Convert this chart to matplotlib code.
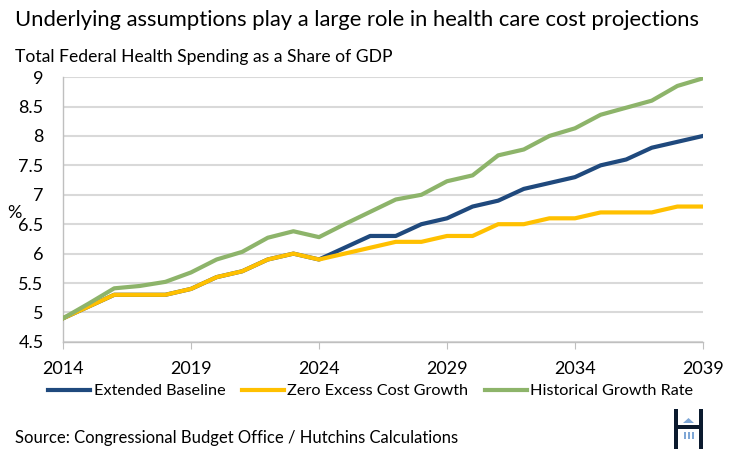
import numpy as np
import matplotlib
matplotlib.use("Agg")
import matplotlib.pyplot as plt
from matplotlib.patches import Rectangle, Polygon

plt.rcParams['font.family'] = ['Lato', 'DejaVu Sans']

# years and series (share of GDP, %)
years = list(range(2014, 2040))
extended_baseline = [4.9, 5.1, 5.3, 5.3, 5.3, 5.4, 5.6, 5.7, 5.9, 6.0, 5.9, 6.1, 6.3,
                     6.3, 6.5, 6.6, 6.8, 6.9, 7.1, 7.2, 7.3, 7.5, 7.6, 7.8, 7.9, 8.0]
zero_excess = [4.9, 5.1, 5.3, 5.3, 5.3, 5.4, 5.6, 5.7, 5.9, 6.0, 5.9, 6.0, 6.1,
               6.2, 6.2, 6.3, 6.3, 6.5, 6.5, 6.6, 6.6, 6.7, 6.7, 6.7, 6.8, 6.8]
historical = [4.9, 5.15, 5.41, 5.45, 5.52, 5.68, 5.9, 6.03, 6.27, 6.38, 6.28, 6.5, 6.71,
              6.92, 7.0, 7.23, 7.33, 7.67, 7.77, 8.0, 8.13, 8.36, 8.48, 8.6, 8.85, 8.98]
x_ticks = [2014, 2019, 2024, 2029, 2034, 2039]
y_ticks = [4.5, 5, 5.5, 6, 6.5, 7, 7.5, 8, 8.5, 9]
y_labels = ['4.5', '5', '5.5', '6', '6.5', '7', '7.5', '8', '8.5', '9']

W, H = 752, 451
fig = plt.figure(figsize=(7.52, 4.51), dpi=100)
ax = fig.add_axes([0.0838, 0.242, 0.851, 0.587])

ax.plot(years, extended_baseline, color='#1F497D', lw=3, label='Extended Baseline', zorder=3)
ax.plot(years, zero_excess, color='#FFC000', lw=3, label='Zero Excess Cost Growth', zorder=3)
ax.plot(years, historical, color='#8DB46A', lw=3, label='Historical Growth Rate', zorder=3)

ax.set_xlim(2014, 2039)
ax.set_ylim(4.5, 9)
ax.set_yticks(y_ticks)
ax.set_yticklabels(y_labels)
ax.set_xticks(x_ticks)
ax.grid(axis='y', color='#D9D9D9', lw=1.5)
ax.set_axisbelow(True)
for s in ['top', 'right']:
    ax.spines[s].set_visible(False)
for s in ['left', 'bottom']:
    ax.spines[s].set_color('#BFBFBF')
    ax.spines[s].set_linewidth(1)
ax.tick_params(axis='y', length=0, labelsize=13, pad=14)
ax.tick_params(axis='x', direction='out', length=5, color='#BFBFBF', labelsize=13, pad=9)

fig.legend(loc='center', bbox_to_anchor=(0.493, 0.133), ncol=3, frameon=False,
           fontsize=11.7, handlelength=2.6, handletextpad=0.2, columnspacing=1.0)

fig.text(0.02, 0.955, 'Underlying assumptions play a large role in health care cost projections',
         fontsize=15.8, va='center', ha='left')
fig.text(0.02, 0.873, 'Total Federal Health Spending as a Share of GDP',
         fontsize=12.6, va='center', ha='left')
fig.text(0.01, 0.528, '%', fontsize=13, va='center', ha='left')
fig.text(0.02, 0.028, 'Source: Congressional Budget Office / Hutchins Calculations',
         fontsize=12, va='center', ha='left')

# logo (pixel boxes converted to figure coords)
def box(x0, y0, x1, y1, color):
    fig.patches.append(Rectangle((x0 / W, 1 - y1 / H), (x1 - x0) / W, (y1 - y0) / H,
                                 transform=fig.transFigure, color=color, lw=0))

box(674, 409, 678, 449, '#0B1A2E')
box(699, 409, 703, 449, '#0B1A2E')
box(678, 425, 699, 429, '#0B1A2E')
fig.patches.append(Polygon([(683 / W, 1 - 423 / H), (694 / W, 1 - 423 / H), (688.5 / W, 1 - 418 / H)],
                           closed=True, transform=fig.transFigure, color='#7FA7D6', lw=0))
for cx in [684, 688, 692]:
    box(cx, 432, cx + 2, 439, '#7FA7D6')

fig.savefig('out.png', dpi=100)
